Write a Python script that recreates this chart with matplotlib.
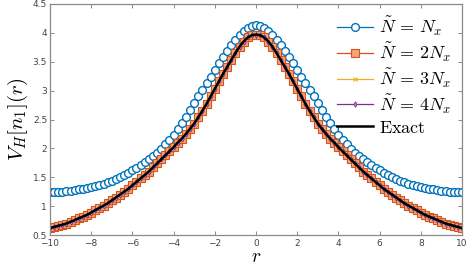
import numpy as np
import matplotlib
matplotlib.use("Agg")
import matplotlib.pyplot as plt

plt.rcParams['mathtext.fontset'] = 'cm'

# grid points r = -10 ... 10, step 0.2
r = np.linspace(-10, 10, 101)

# N~ = N_x (blue circles)
v_n1 = [1.24, 1.24, 1.25, 1.25, 1.26, 1.27, 1.28, 1.29, 1.30, 1.31,
        1.33, 1.35, 1.37, 1.39, 1.41, 1.44, 1.47, 1.50, 1.54, 1.58,
        1.62, 1.66, 1.71, 1.76, 1.81, 1.86, 1.92, 1.99, 2.07, 2.15,
        2.23, 2.33, 2.44, 2.55, 2.66, 2.78, 2.90, 3.01, 3.13, 3.24,
        3.36, 3.47, 3.59, 3.69, 3.79, 3.88, 3.96, 4.03, 4.08, 4.12,
        4.13,
        4.12, 4.08, 4.03, 3.96, 3.88, 3.79, 3.69, 3.59, 3.47, 3.36,
        3.24, 3.13, 3.01, 2.90, 2.78, 2.66, 2.55, 2.44, 2.33, 2.23,
        2.15, 2.07, 1.99, 1.92, 1.86, 1.81, 1.76, 1.71, 1.66, 1.62,
        1.58, 1.54, 1.50, 1.47, 1.44, 1.41, 1.39, 1.37, 1.35, 1.33,
        1.31, 1.30, 1.29, 1.28, 1.27, 1.26, 1.25, 1.25, 1.24, 1.24]

# N~ = 2,3,4 N_x and exact lie on top of each other
v_exact = [0.62, 0.64, 0.66, 0.68, 0.70, 0.73, 0.76, 0.79, 0.82, 0.85,
           0.89, 0.93, 0.97, 1.01, 1.05, 1.10, 1.15, 1.20, 1.25, 1.30,
           1.36, 1.42, 1.48, 1.54, 1.60, 1.67, 1.74, 1.81, 1.88, 1.95,
           2.02, 2.10, 2.17, 2.25, 2.34, 2.43, 2.54, 2.65, 2.77, 2.90,
           3.03, 3.16, 3.29, 3.41, 3.53, 3.65, 3.76, 3.85, 3.92, 3.96,
           3.97,
           3.96, 3.92, 3.85, 3.76, 3.65, 3.53, 3.41, 3.29, 3.16, 3.03,
           2.90, 2.77, 2.65, 2.54, 2.43, 2.34, 2.25, 2.17, 2.10, 2.02,
           1.95, 1.88, 1.81, 1.74, 1.67, 1.60, 1.54, 1.48, 1.42, 1.36,
           1.30, 1.25, 1.20, 1.15, 1.10, 1.05, 1.01, 0.97, 0.93, 0.89,
           0.85, 0.82, 0.79, 0.76, 0.73, 0.70, 0.68, 0.66, 0.64, 0.62]
v_n2 = v_exact
v_n3 = v_exact
v_n4 = v_exact

fig = plt.figure(figsize=(4.71, 2.65), dpi=100)
ax = fig.add_axes([0.106, 0.113, 0.875, 0.872])

ax.plot(r, v_n1, '-o', color='#0072BD', mfc='white', ms=5.6, mew=1.0, lw=0.9,
        label=r'$\tilde{N}\,=\,N_x$')
ax.plot(r, v_n2, '-s', color='#D95319', mfc='#F2A47E', ms=5.2, mew=0.8, lw=0.9,
        label=r'$\tilde{N}\,=\,2N_x$')
ax.plot(r, v_n3, '-x', color='#EDB120', ms=3.2, mew=0.8, lw=0.9,
        label=r'$\tilde{N}\,=\,3N_x$')
ax.plot(r, v_n4, '-d', color='#7E2F8E', mfc='#B58CC0', ms=2.8, mew=0.6, lw=0.9,
        label=r'$\tilde{N}\,=\,4N_x$')
ax.plot(r, v_exact, '-', color='black', lw=1.8, label=r'$\mathrm{Exact}$')

ax.set_xlim(-10, 10)
ax.set_ylim(0.5, 4.5)
ax.set_xticks(np.arange(-10, 11, 2))
ax.set_yticks(np.arange(0.5, 4.51, 0.5))
ax.set_yticklabels(['0.5', '1', '1.5', '2', '2.5', '3', '3.5', '4', '4.5'])
ax.tick_params(direction='in', top=True, right=True, length=3, width=0.6,
               color='#777777', labelsize=6.5, labelcolor='#444444')
ax.tick_params(axis='x', pad=3)
ax.tick_params(axis='y', pad=2)
for s in ax.spines.values():
    s.set_color('#8a8a8a')
    s.set_linewidth(0.9)

ax.set_xlabel(r'$r$', fontsize=14, labelpad=-1)
ax.set_ylabel(r'$V_H[n_1](r)$', fontsize=15, labelpad=2)

leg = ax.legend(loc='upper right', frameon=False, fontsize=13,
                handlelength=2.0, handletextpad=0.3, labelspacing=0.15,
                borderaxespad=0.2)

fig.savefig('out.png', dpi=100)
